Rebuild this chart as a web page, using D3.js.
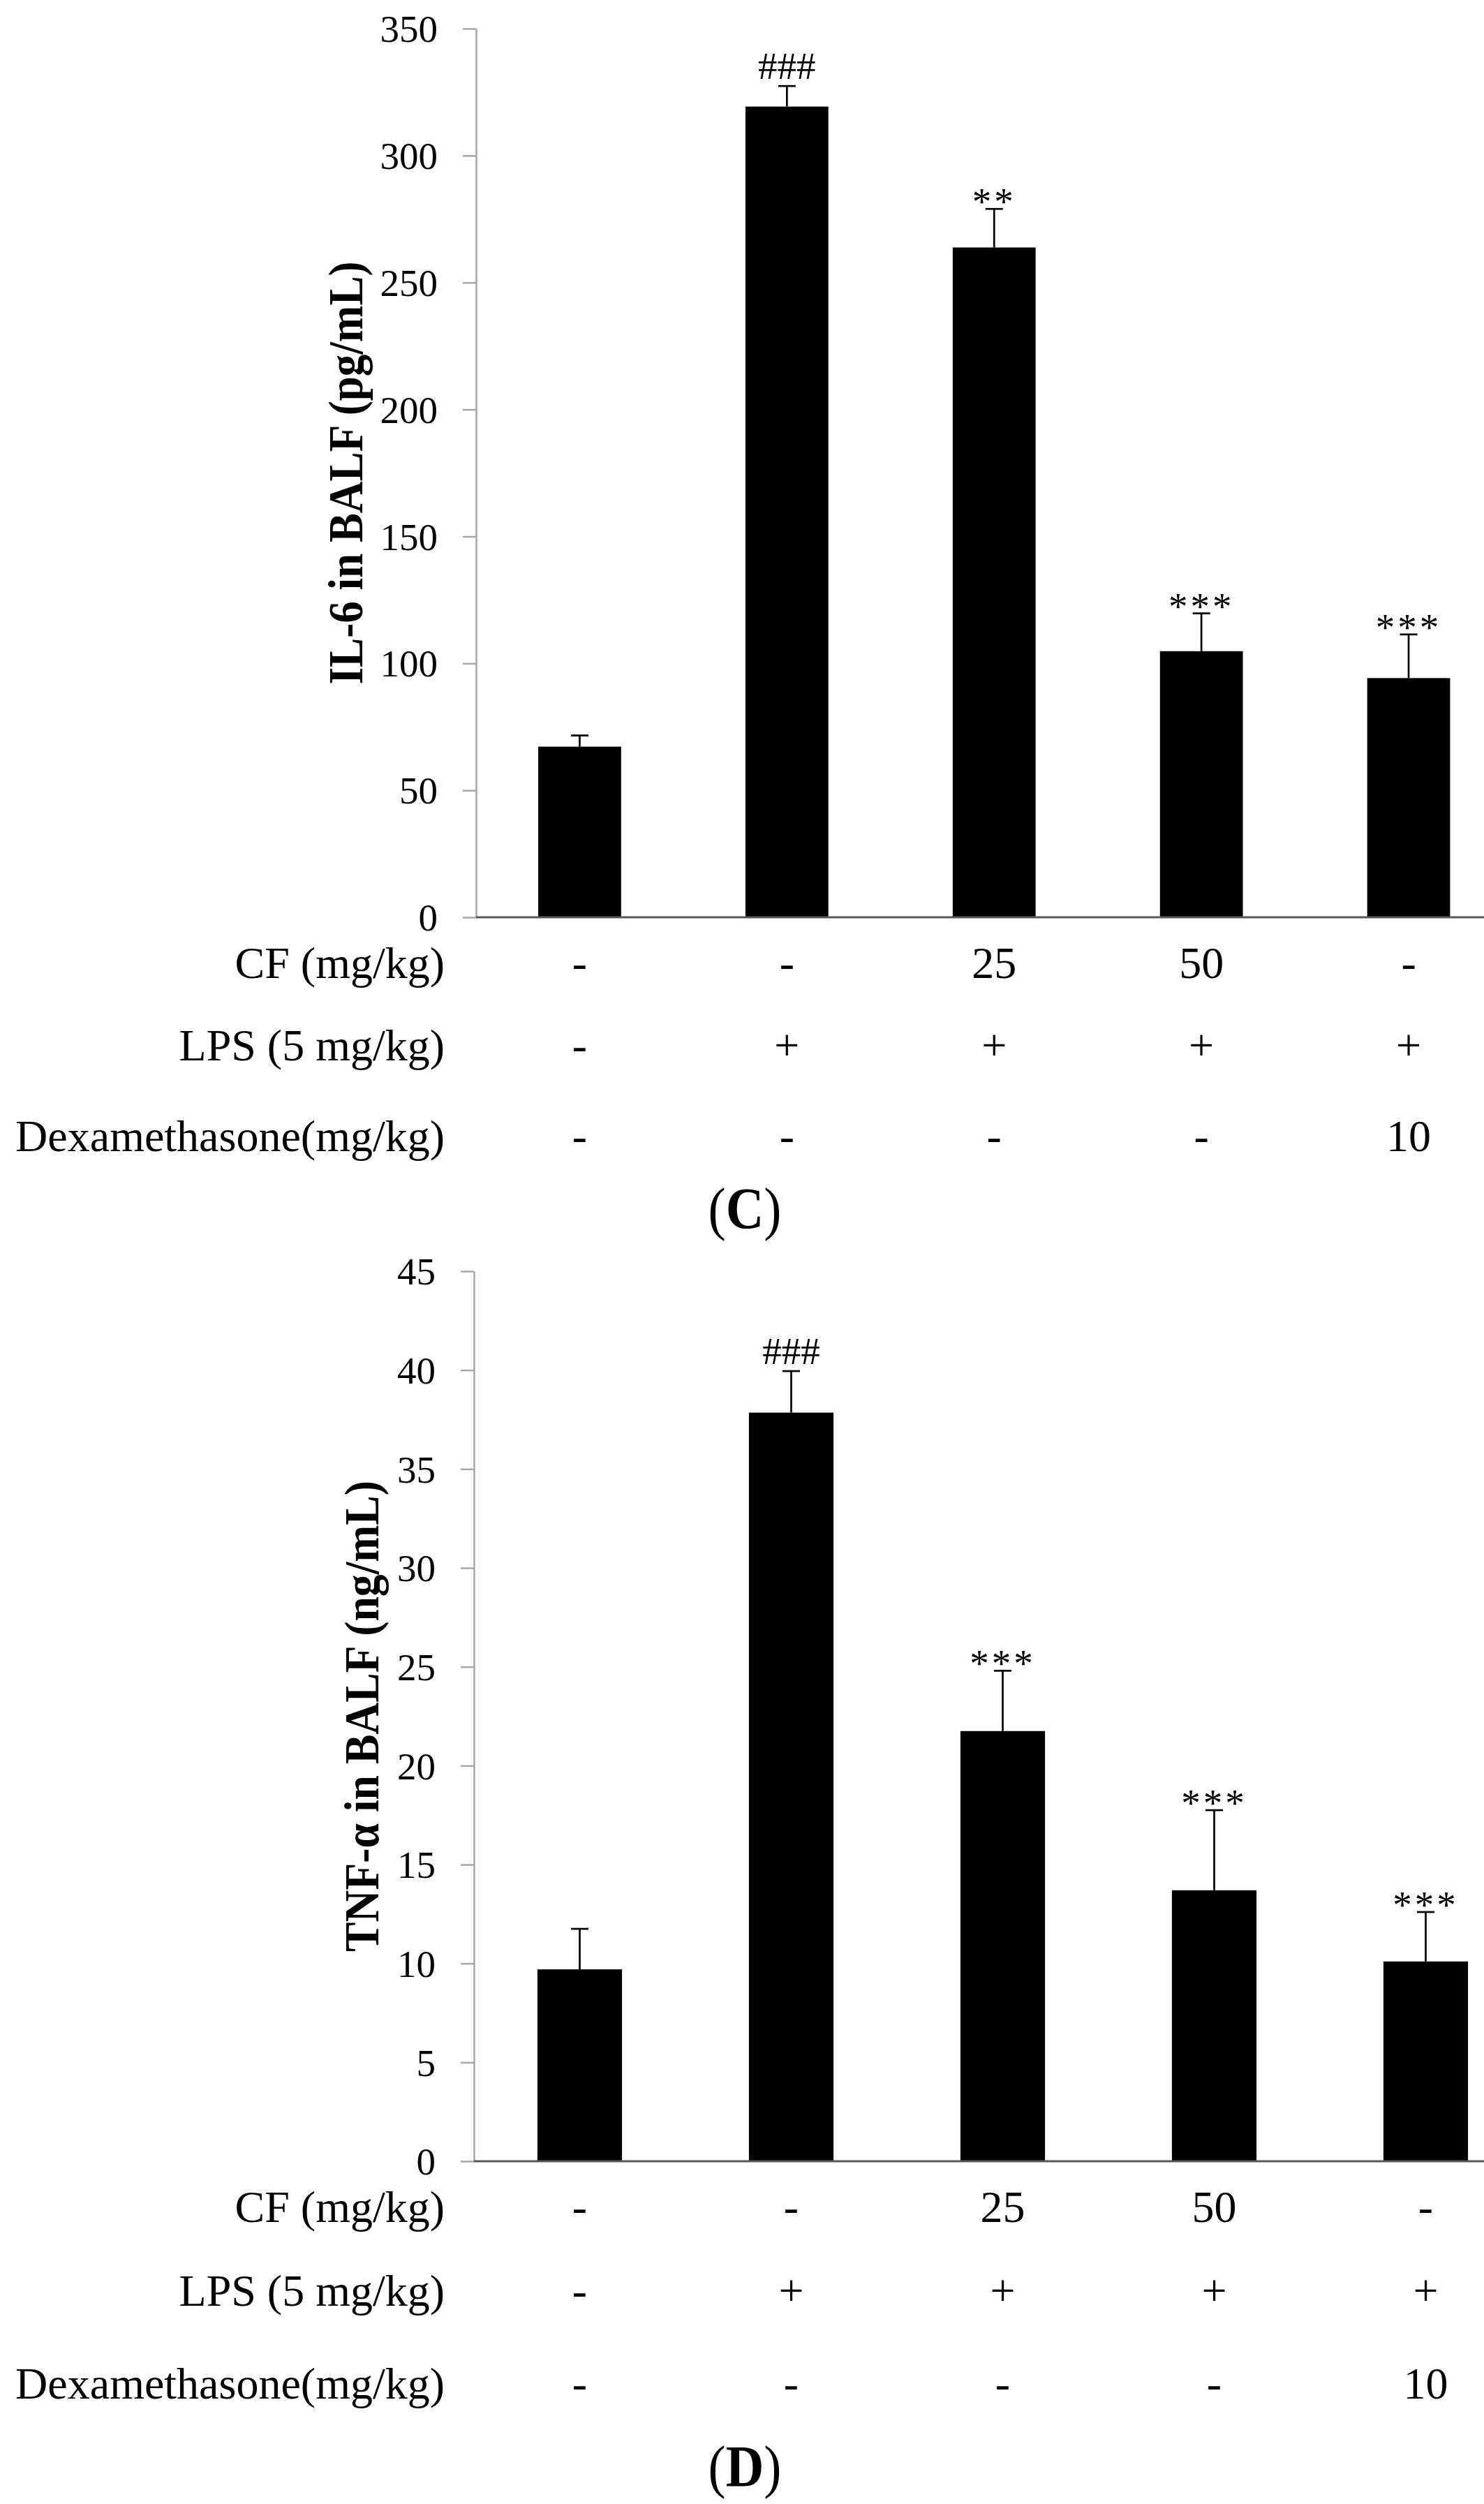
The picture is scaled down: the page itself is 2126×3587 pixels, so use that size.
<!DOCTYPE html>
<html>
<head>
<meta charset="utf-8">
<script src="https://cdn.jsdelivr.net/npm/d3@7"></script>
<style>
  html, body { margin: 0; padding: 0; background: #fff; }
  svg { display: block; }
  text { font-family: "Liberation Serif", "Times New Roman", serif; fill: #000; }
</style>
</head>
<body>
<div id="chart"></div>
<script>
// treatment groups (one bar each)
const groups = ["normal", "lps", "cf25", "cf50", "dex"];

// treatment table below each panel
const rowLabels = ["CF (mg/kg)", "LPS (5 mg/kg)", "Dexamethasone(mg/kg)"];
const cfDose = ["-", "-", "25", "50", "-"];
const lpsDose = ["-", "+", "+", "+", "+"];
const dexDose = ["-", "-", "-", "-", "10"];

// panel C: IL-6
const il6Mean = [67.2, 319.3, 263.8, 104.8, 94.2];
const il6Err = [4.4, 8.1, 15.2, 14.9, 17.2];
const il6Sig = ["", "###", "**", "***", "***"];
const il6Ticks = [0, 50, 100, 150, 200, 250, 300, 350];

// panel D: TNF-alpha
const tnfMean = [9.7, 37.85, 21.75, 13.7, 10.1];
const tnfErr = [2.05, 2.1, 3.05, 4.05, 2.5];
const tnfSig = ["", "###", "***", "***", "***"];
const tnfTicks = [0, 5, 10, 15, 20, 25, 30, 35, 40, 45];

const width = 2126, height = 3587;

const svg = d3.select("#chart").append("svg")
    .attr("width", width)
    .attr("height", height);

// draw one panel
function drawPanel(p) {
    const g = svg.append("g");

    const x = d3.scaleBand()
        .domain(groups)
        .range([p.left, p.left + p.step * groups.length])
        .paddingInner(0.6)
        .paddingOuter(0.3);

    const y = d3.scaleLinear()
        .domain([0, d3.max(p.ticks)])
        .range([p.bottom, p.top]);

    // y axis
    const yAxis = g.append("g")
        .attr("transform", `translate(${p.left},0)`)
        .call(d3.axisLeft(y)
            .tickValues(p.ticks)
            .tickSize(19)
            .tickSizeOuter(0)
            .tickPadding(36));
    yAxis.select(".domain").attr("stroke", "#a6a6a6").attr("stroke-width", 2.5);
    yAxis.selectAll(".tick line").attr("stroke", "#a6a6a6").attr("stroke-width", 2.5);
    yAxis.selectAll(".tick text")
        .attr("font-size", 55)
        .attr("dy", "0.34em")
        .style("font-family", "'Liberation Serif', 'Times New Roman', serif");

    // y label
    g.append("text")
        .attr("transform", `translate(${p.labelX},${(p.top + p.bottom) / 2}) rotate(-90)`)
        .attr("text-anchor", "middle")
        .attr("font-size", 70)
        .attr("font-weight", "bold")
        .attr("textLength", p.labelLen)
        .attr("lengthAdjust", "spacingAndGlyphs")
        .text(p.label);

    // bars
    g.selectAll("rect.bar")
        .data(p.mean)
        .enter().append("rect")
        .attr("class", "bar")
        .attr("x", (d, i) => x(groups[i]))
        .attr("width", x.bandwidth())
        .attr("y", d => y(d))
        .attr("height", d => y(0) - y(d))
        .attr("fill", "#000");

    // x baseline
    g.append("line")
        .attr("x1", p.left)
        .attr("x2", width)
        .attr("y1", y(0))
        .attr("y2", y(0))
        .attr("stroke", "#595959")
        .attr("stroke-width", 3);

    // error bars (upper only)
    const cx = i => x(groups[i]) + x.bandwidth() / 2;
    g.selectAll("line.err")
        .data(p.mean)
        .enter().append("line")
        .attr("class", "err")
        .attr("x1", (d, i) => cx(i))
        .attr("x2", (d, i) => cx(i))
        .attr("y1", d => y(d))
        .attr("y2", (d, i) => y(d + p.err[i]))
        .attr("stroke", "#000")
        .attr("stroke-width", 2.7);
    g.selectAll("line.cap")
        .data(p.mean)
        .enter().append("line")
        .attr("class", "cap")
        .attr("x1", (d, i) => cx(i) - 12.5)
        .attr("x2", (d, i) => cx(i) + 12.5)
        .attr("y1", (d, i) => y(d + p.err[i]))
        .attr("y2", (d, i) => y(d + p.err[i]))
        .attr("stroke", "#000")
        .attr("stroke-width", 2.7);

    // significance marks
    g.selectAll("text.sig")
        .data(p.sig)
        .enter().append("text")
        .attr("class", "sig")
        .attr("x", (d, i) => cx(i))
        .attr("y", (d, i) => y(p.mean[i] + p.err[i]) + (d.startsWith("#") ? -10 : 8))
        .attr("text-anchor", "middle")
        .attr("font-size", 55)
        .attr("letter-spacing", d => d.startsWith("*") ? 4 : 0)
        .text(d => d);

    // treatment table
    const rows = [cfDose, lpsDose, dexDose];
    rows.forEach((vals, r) => {
        const ry = p.rowY[r] + 17;
        g.append("text")
            .attr("x", 637)
            .attr("y", ry)
            .attr("text-anchor", "end")
            .attr("font-size", 64)
            .text(rowLabels[r]);
        g.selectAll(null)
            .data(vals)
            .enter().append("text")
            .attr("x", (d, i) => cx(i))
            .attr("y", ry)
            .attr("text-anchor", "middle")
            .attr("font-size", 64)
            .text(d => d);
    });

    // panel letter
    const letter = g.append("text")
        .attr("x", 1067)
        .attr("y", p.letterY)
        .attr("text-anchor", "middle")
        .attr("font-size", 84)
        .attr("textLength", 105)
        .attr("lengthAdjust", "spacingAndGlyphs");
    letter.append("tspan").text("(");
    letter.append("tspan").attr("font-weight", "bold").text(p.letter);
    letter.append("tspan").text(")");
}

drawPanel({
    left: 682, step: 296.9, top: 41, bottom: 1314,
    ticks: il6Ticks, mean: il6Mean, err: il6Err, sig: il6Sig,
    label: "IL-6 in BALF (pg/mL)", labelX: 519, labelLen: 606,
    rowY: [1384, 1502, 1632], letterY: 1760, letter: "C"
});

drawPanel({
    left: 679, step: 303, top: 1821, bottom: 3096,
    ticks: tnfTicks, mean: tnfMean, err: tnfErr, sig: tnfSig,
    label: "TNF-α in BALF (ng/mL)", labelX: 542, labelLen: 675,
    rowY: [3166, 3286, 3419], letterY: 3562, letter: "D"
});
</script>
</body>
</html>
